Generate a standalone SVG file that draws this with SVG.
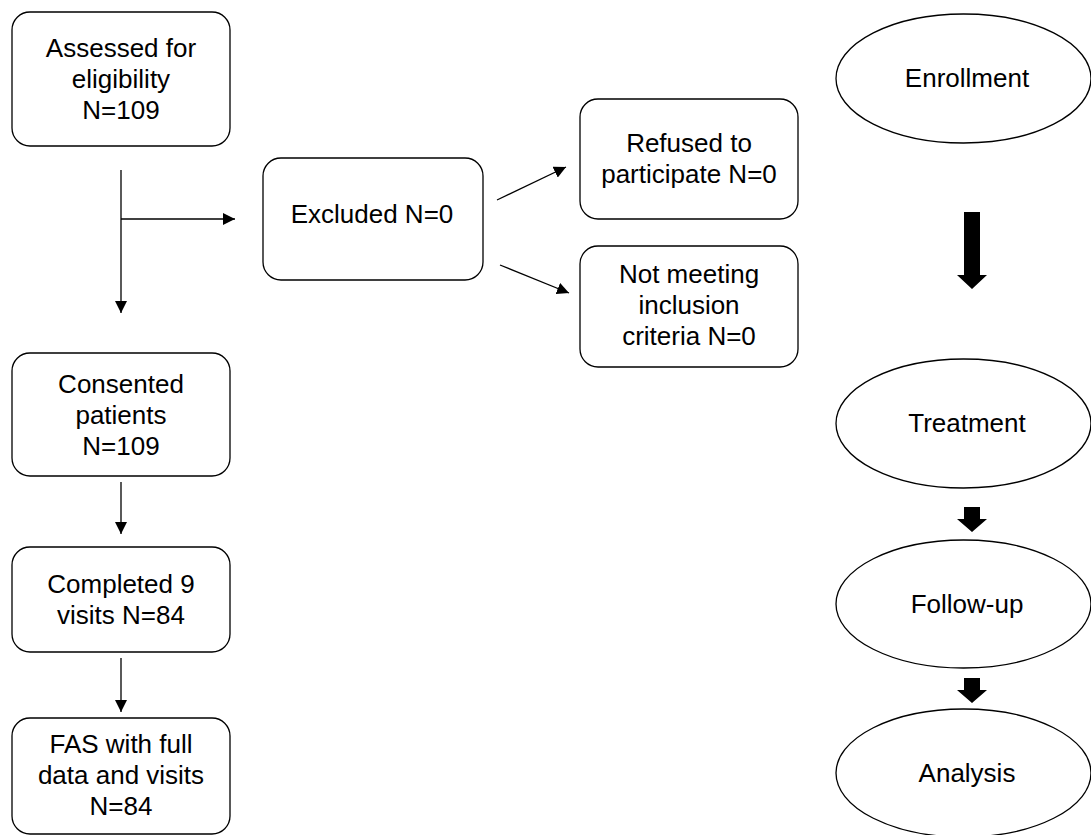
<svg xmlns="http://www.w3.org/2000/svg" width="1091" height="835" viewBox="0 0 1091 835">
<defs>
<style>
.box{fill:#fff;stroke:#000;stroke-width:1.3}
.ell{fill:#fff;stroke:#000;stroke-width:1.3}
.t{font-family:"Liberation Sans",Arial,sans-serif;font-size:26px;fill:#000;text-anchor:middle}
.ln{stroke:#000;stroke-width:1.3;fill:none}
.arr{marker-end:url(#ah)}
.big{fill:#000;stroke:none}
</style>
<marker id="ah" markerUnits="userSpaceOnUse" markerWidth="12" markerHeight="12" refX="12" refY="6" orient="auto" viewBox="0 0 12 12">
<path d="M0,0 L12,6 L0,12 z" fill="#000"/>
</marker>
</defs>
<rect width="1091" height="835" fill="#fff"/>

<g id="connectors">
<line class="ln" x1="121" y1="170" x2="121" y2="313" style="marker-end:url(#ah)"/>
<line class="ln" x1="121" y1="219" x2="235" y2="219" style="marker-end:url(#ah)"/>
<line class="ln" x1="497" y1="200" x2="566" y2="167" style="marker-end:url(#ah)"/>
<line class="ln" x1="500" y1="265" x2="569" y2="293" style="marker-end:url(#ah)"/>
<line class="ln" x1="121" y1="482" x2="121" y2="534" style="marker-end:url(#ah)"/>
<line class="ln" x1="121" y1="658" x2="121" y2="712" style="marker-end:url(#ah)"/>
<path class="big" d="M964,212 H980 V275 H987 L972,289 L957,275 H964 Z"/>
<path class="big" d="M964,507 H980 V519 H987 L972,532 L957,519 H964 Z"/>
<path class="big" d="M964,678 H980 V690 H987 L972,703 L957,690 H964 Z"/>
</g>

<g id="assessed">
<rect class="box" x="12" y="12" width="218" height="134" rx="18"/>
<text class="t" x="121" y="57">Assessed for</text>
<text class="t" x="121" y="88">eligibility</text>
<text class="t" x="121" y="119">N=109</text>
</g>

<g id="excluded">
<rect class="box" x="263" y="158" width="220" height="122" rx="18"/>
<text class="t" x="372" y="223">Excluded N=0</text>
</g>

<g id="refused">
<rect class="box" x="580" y="99" width="218" height="120" rx="18"/>
<text class="t" x="689" y="152">Refused to</text>
<text class="t" x="689" y="183">participate N=0</text>
</g>

<g id="notmeeting">
<rect class="box" x="580" y="246" width="218" height="121" rx="18"/>
<text class="t" x="689" y="283">Not meeting</text>
<text class="t" x="689" y="314">inclusion</text>
<text class="t" x="689" y="345">criteria N=0</text>
</g>

<g id="consented">
<rect class="box" x="12" y="353" width="218" height="123" rx="18"/>
<text class="t" x="121" y="393">Consented</text>
<text class="t" x="121" y="424">patients</text>
<text class="t" x="121" y="455">N=109</text>
</g>

<g id="completed">
<rect class="box" x="12" y="547" width="218" height="105" rx="18"/>
<text class="t" x="121" y="593">Completed 9</text>
<text class="t" x="121" y="624">visits N=84</text>
</g>

<g id="fas">
<rect class="box" x="12" y="718" width="218" height="116" rx="18"/>
<text class="t" x="121" y="753">FAS with full</text>
<text class="t" x="121" y="784">data and visits</text>
<text class="t" x="121" y="815">N=84</text>
</g>

<g id="enrollment">
<ellipse class="ell" cx="963.5" cy="78.5" rx="127.5" ry="64.5"/>
<text class="t" x="967" y="87">Enrollment</text>
</g>

<g id="treatment">
<ellipse class="ell" cx="963.5" cy="423.5" rx="127.5" ry="64.5"/>
<text class="t" x="967" y="432">Treatment</text>
</g>

<g id="followup">
<ellipse class="ell" cx="963.5" cy="604" rx="127.5" ry="64"/>
<text class="t" x="967" y="613">Follow-up</text>
</g>

<g id="analysis">
<ellipse class="ell" cx="963.5" cy="773" rx="127.5" ry="64"/>
<text class="t" x="967" y="782">Analysis</text>
</g>
</svg>
